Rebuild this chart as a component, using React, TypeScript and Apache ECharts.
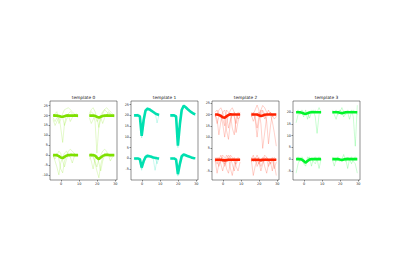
import React, { useEffect, useRef } from "react";
import * as echarts from "echarts";

// sample positions of one waveform block (relative to channel x)
const SAMPLE_X = [-4.4, -3.3, -2.3, -1.2, -0.2, 0.9, 1.9, 3.0, 4.1, 5.1, 6.2, 7.2, 8.3, 9.4];
// channel locations: upper-left, upper-right, lower-left, lower-right
const CH_X = [0, 20, 0, 20];
const CH_Y = [20, 20, 0, 0];

const TITLES = ["template 0", "template 1", "template 2", "template 3"];
const X_TICKS = [0, 10, 20, 30];
const Y_TICKS_A = [-10, -5, 0, 5, 10, 15, 20, 25];
const Y_TICKS_B = [-5, 0, 5, 10, 15, 20, 25];
const Y_TICKS_C = [-5, 0, 5, 10, 15, 20];

const MAIN_COLORS = ["#7ee000", "#00e0b0", "#ff2200", "#00f52a"];

// ---------- template 0 ----------
const T0_MEAN = [
  [0, 0.1, 0, -0.2, -0.5, -0.6, -0.3, 0, 0.1, 0, 0, 0.1, 0, 0],
  [0, 0, 0, -0.1, -0.6, -1.0, -0.6, -0.2, 0, 0.1, 0, 0, 0, 0],
  [0, 0, -0.1, -0.5, -1.2, -1.5, -0.9, -0.3, 0, 0.1, 0.1, 0, 0, 0],
  [0, 0, 0, -0.3, -1.3, -2.0, -1.2, -0.4, 0, 0.2, 0.1, 0, 0, 0],
];
const T0_TRACES = [
  [
    [-1, -3, -1, 0, -6, -13.6, -4, 0, 1, 2, 1, 0, 0.5, 0],
    [0, 1, 2, -4, -2, 1, 3, 3.5, 4, 3, 2, 1, 0, -1],
    [-2, -5, -3, -1, 0, -1, -5, -2, 0, -3, -1, 0, 1, 0],
  ],
  [
    [0, 2, 1, -3, -19, -5, 0, 2, 3, 2, 1, 1, 0, 0],
    [1, 3, 4, 2, -1, -6, -2, 1, 3, 4, 3, 2, 1, 0],
    [-1, -4, -2, 0, -3, -2, -1, -4, -1, 0, 2, 1, 0, -1],
  ],
  [
    [0, -3, -6, -10, -4, -1, 1, 2, 0, -1, 0, 1, 0, 0],
    [-1, 0, 1, -2, -7, -9, -3, 0, 2, 3, 2, 1, 0, 0],
    [0, -2, 0, 2, 1, -3, -6, -2, 0, -1, -4, -1, 0, 0],
  ],
  [
    [0, 1, -1, -4, -8, -11.5, -5, -1, 1, 0, 0, 0, 0, 0],
    [-2, -1, 0, -3, -6, -2, 0, 2, 3, 2, 0, -3, -1, 0],
    [0, -3, -7, -2, 0, -4, -8, -3, 0, 1, 0, -1, 0, 0],
  ],
];

// ---------- template 1 ----------
const T1_MEAN = [
  [0, 0, 0, -0.5, -9.5, -2, 2.2, 3.1, 2.8, 2.2, 1.6, 1.0, 0.5, 0.2],
  [0, 0, 0, -0.5, -14, -4, 2.5, 4.5, 3.8, 3, 2.2, 1.5, 0.9, 0.5],
  [0, 0, 0, -0.3, -4.2, -1.2, 0.6, 1.2, 1.0, 0.8, 0.5, 0.3, 0.1, 0],
  [0, 0, 0, -0.5, -7.3, -2.5, 1, 1.8, 1.5, 1.1, 0.8, 0.5, 0.2, 0.1],
];
const T1_TRACES = [
  [
    [0.5, -0.5, 0.8, -1, -10.5, -3, 2.8, 3.8, 2.5, 2.8, 1.2, 1.5, -3.5, 0.5],
    [-0.6, 0.7, -0.5, 0.3, -8.5, -5, 1.5, 2.8, 3.4, 1.8, 2.1, 0.6, 1.0, -0.4],
  ],
  [
    [0.6, -0.8, 0.5, -1.2, -15, -3, 3, 5, 3.2, 3.5, 1.8, 2, 0.4, 1],
    [-0.5, 0.4, -0.7, 0.2, -13, -5, 2, 4, 4.3, 2.5, 2.6, 1, 1.3, -0.3],
  ],
  [
    [0.4, -0.8, 0.5, -2, -5.5, -0.8, 1.5, 1.8, 0.5, 1.4, 0.2, 0.8, -2.5, 0.5],
    [-0.5, 0.6, -0.4, 0.2, -3.5, -2, 0.3, 1.5, 1.6, 0.2, 0.9, -0.4, 0.6, -0.2],
    [0, -0.4, 0.3, -0.8, -4.8, -1, 1, 0.7, 1.3, 0.5, -0.3, -5.5, -0.5, 0],
  ],
  [
    [0.5, -0.6, 0.4, -1.5, -8.2, -2, 1.5, 2.3, 1, 1.6, 0.4, 1, -0.4, 0.5],
    [-0.4, 0.5, -0.6, 0.1, -6.5, -3.5, 0.6, 1.4, 2.1, 0.6, 1.3, 0, 0.7, -0.3],
  ],
];

// ---------- template 2 ----------
const T2_MEAN = [
  [0, 0, -0.2, -0.6, -1.2, -1.4, -0.8, -0.2, 0.1, 0, 0, 0, 0, 0],
  [0, 0, 0, 0, -0.3, -0.6, -0.4, -0.1, 0, 0, 0, 0, 0, 0],
  [0, 0, 0, 0, -0.2, -0.3, -0.2, 0, 0, 0, 0, 0, 0, 0],
  [0, 0, 0, 0, -0.1, -0.2, -0.1, 0, 0, 0, 0, 0, 0, 0],
];
const T2_TRACES = [
  [
    [0, -2, -9, -3, 1, 2, -1, -6, -2, 0, 1, -8, -3, 0],
    [1, 2, 0, -1, -4, -10, -4, 0, 2, 3, 1, 0, -2, -1],
    [-1, 0, 2, 3, 1, -2, -7, -11, -3, 0, -1, -4, 0, 1],
    [0, -4, -1, 0, -2, -5, 2, 1, 0, -6, -9, -2, 1, 0],
  ],
  [
    [0, 1, -2, -10, -3, 2, 4, 3, 1, 0, 1, -1, 0, 0],
    [-1, 0, 2, 4.2, 2, -4, -15, -8, -1, 0, 1, 0, 0, -1],
    [0, -3, -1, 0, 1, 0, 2, 0, -3, -13, -5, 0, -2, -1],
    [1, 0, -1, -6, -1, 2, 1, -2, 0, 2, 0, -3, -8, -14],
  ],
  [
    [0, -6, -2, 0, 1, -3, -1, 0, 2, 1, -1, -2, 0, 0],
    [-1, 0, 1, -2, -5, -1, 2, 1, -4, -7, -2, 0, 1, 0],
    [0, 1, -3, 0, 2, 1, -4, -6, -1, 0, 1, -3, -5, -1],
    [1, -2, 0, 2, -1, -2, 0, 2, 1, -2, -5, -1, 0, 0],
  ],
  [
    [0, -7, -3, 0, 1, -1, 0, 2, 1, 0, -2, 0, 1, 0],
    [-1, 0, 1, -3, -1, -5, -2, 0, 1, -1, 0, 0, -4, -1],
    [0, 2, -1, 0, -2, 0, 1, -3, -6, -2, 0, 1, -2, -7],
    [1, -1, 0, 2, 0, -3, -1, 1, 0, -3, -1, -5, 0, 0],
  ],
];

// ---------- template 3 ----------
const T3_MEAN = [
  [0, 0, 0, -0.2, -0.5, -0.7, -0.4, -0.1, 0, 0, 0, 0, 0, 0],
  [0, 0, 0, 0, -0.2, -0.4, -0.2, 0, 0, 0, 0, 0, 0, 0],
  [0, 0, 0, -0.2, -0.8, -1.5, -0.8, -0.2, 0, 0, 0, 0, 0, 0],
  [0, 0, 0, 0, -0.2, -0.4, -0.2, 0, 0.1, 0, 0, 0, 0, 0],
];
const T3_TRACES = [
  [
    [-4.5, -1, 0, 1, 0, -1, 0, -2.5, 0, 1, -2, -9, -1, 0],
    [0, 1, -1, 0, -2, 1, -3, 0, 1, 0, 1, 0, 2, 0],
  ],
  [
    [0, -1, -3, 0, 1, 0, -2, 0, 1, 0, 1, -2, -14.5, 3],
    [1, 0, 1, -1, 0, 2, 0, -1, 0, -3, 0, 1, 0, -1],
  ],
  [
    [-6, -2, 0, 1, 0, -2, 0, 1, -3, 0, 1, 0, -4, 0],
    [0, 1, -1, 0, -2, -3, 1, 0, 0, -1, -2, 0, 1, 0],
  ],
  [
    [0, -3, 0, 1, 0, -1, 0, 0, -4, 0, 1, -1, -2, -6],
    [1, 0, -1, 0, -1, 0, 2, -1, 0, 0, -2, 0, 1, 0],
  ],
];

const MEANS = [T0_MEAN, T1_MEAN, T2_MEAN, T3_MEAN];
const TRACES = [T0_TRACES, T1_TRACES, T2_TRACES, T3_TRACES];
const Y_RANGES = [
  [-12.6, 27.4],
  [-10, 26.7],
  [-9, 26],
  [-8.9, 24.8],
];
const Y_TICKS = [Y_TICKS_A, Y_TICKS_B, Y_TICKS_B, Y_TICKS_C];

const GRID_LEFTS = [50, 131, 212, 293];
const GRID_W = 67;
const GRID_TOP = 101;
const GRID_H = 79;

function toPoints(values: number[], ch: number) {
  return values.map((v, i) => [SAMPLE_X[i] + CH_X[ch], v + CH_Y[ch]]);
}

export default function App() {
  const ref = useRef<HTMLDivElement>(null);
  useEffect(() => {
    document.body.style.margin = "0";
    if (!ref.current) return;
    const chart = echarts.init(ref.current, null, { renderer: "svg" });
    const font = "DejaVu Sans";
    const grids: any[] = [];
    const xAxes: any[] = [];
    const yAxes: any[] = [];
    const series: any[] = [];
    const graphics: any[] = [];
    for (let t = 0; t < 4; t++) {
      grids.push({
        left: GRID_LEFTS[t],
        top: GRID_TOP,
        width: GRID_W,
        height: GRID_H,
        show: true,
        borderColor: "#222",
        borderWidth: 0.5,
        backgroundColor: "transparent",
      });
      const axisCommon = {
        axisLine: { show: false, onZero: false },
        splitLine: { show: false },
        axisTick: { show: true, length: 1.5, lineStyle: { color: "#222", width: 0.5 } },
        axisLabel: { fontSize: 3.4, color: "#222", fontFamily: font, margin: 2 },
      };
      xAxes.push({
        type: "value",
        gridIndex: t,
        position: "bottom",
        min: -6.1,
        max: 30.9,
        ...axisCommon,
        axisTick: { ...axisCommon.axisTick, customValues: X_TICKS },
        axisLabel: { ...axisCommon.axisLabel, customValues: X_TICKS },
      });
      yAxes.push({
        type: "value",
        gridIndex: t,
        position: "left",
        min: Y_RANGES[t][0],
        max: Y_RANGES[t][1],
        ...axisCommon,
        axisTick: { ...axisCommon.axisTick, customValues: Y_TICKS[t] },
        axisLabel: { ...axisCommon.axisLabel, customValues: Y_TICKS[t] },
      });
      for (let c = 0; c < 4; c++) {
        TRACES[t][c].forEach((tr) => {
          series.push({
            type: "line",
            xAxisIndex: t,
            yAxisIndex: t,
            data: toPoints(tr, c),
            showSymbol: false,
            silent: true,
            lineStyle: { color: MAIN_COLORS[t], width: 0.7, opacity: 0.3 },
          });
        });
      }
      for (let c = 0; c < 4; c++) {
        series.push({
          type: "line",
          xAxisIndex: t,
          yAxisIndex: t,
          data: toPoints(MEANS[t][c], c),
          showSymbol: false,
          silent: true,
          lineStyle: { color: MAIN_COLORS[t], width: 2.6, opacity: 1 },
        });
      }
      graphics.push({
        type: "text",
        x: GRID_LEFTS[t] + GRID_W / 2,
        y: GRID_TOP - 1.5,
        style: {
          text: TITLES[t],
          fill: "#111",
          font: `4.3px ${font}`,
          textAlign: "center",
          textVerticalAlign: "bottom",
        },
      });
    }
    chart.setOption({
      animation: false,
      backgroundColor: "#fff",
      grid: grids,
      xAxis: xAxes,
      yAxis: yAxes,
      series,
      graphic: graphics,
    });
    return () => chart.dispose();
  }, []);
  return (
    <div
      ref={ref}
      style={{ position: "absolute", left: 0, top: 0, width: 400, height: 280 }}
    />
  );
}
